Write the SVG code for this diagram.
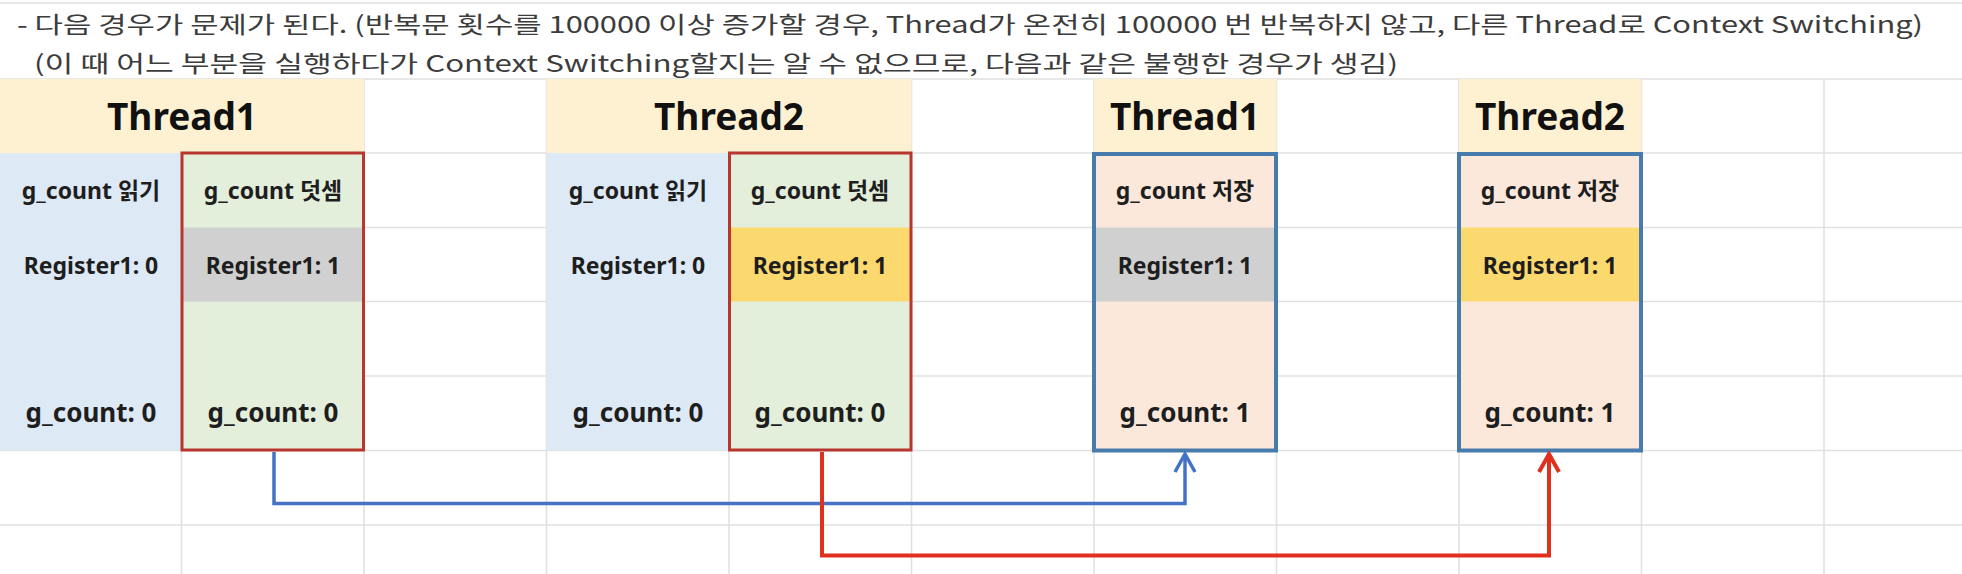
<svg xmlns="http://www.w3.org/2000/svg" width="1962" height="574" viewBox="0 0 1962 574">
<defs>
<style>
.grid{stroke:#e1e1e1;stroke-width:1.6;fill:none}
.hdr{fill:#fdf1d2}
.blue{fill:#dee9f6}
.green{fill:#e3eedb}
.peach{fill:#fce8db}
.gray{fill:#d0d0d0}
.yel{fill:#fcd96e}
.redbox{fill:none;stroke:#b8362d;stroke-width:3}
.bluebox{fill:none;stroke:#467bab;stroke-width:4}
.title{font-family:"Noto Sans CJK KR","Noto Sans",sans-serif;font-size:23px;fill:#3c3c3c}
.h{font-family:"Noto Sans","Noto Sans CJK KR",sans-serif;font-size:37px;font-weight:bold;fill:#111;text-anchor:middle}
.t{font-family:"Noto Sans","Noto Sans CJK KR",sans-serif;font-size:23px;font-weight:bold;fill:#1e1e1e;text-anchor:middle}
.b{font-family:"Noto Sans","Noto Sans CJK KR",sans-serif;font-size:26px;font-weight:bold;fill:#1e1e1e;text-anchor:middle}
.cb{fill:none;stroke:#4472c4;stroke-width:3.5}
.cr{fill:none;stroke:#e0301e;stroke-width:4}
</style>
<marker id="ab" viewBox="0 0 24 24" refX="21" refY="12" markerWidth="24" markerHeight="24" markerUnits="userSpaceOnUse" orient="auto">
<path d="M3,2 L21,12 L3,22" fill="none" stroke="#4472c4" stroke-width="3.5"/>
</marker>
<marker id="ar" viewBox="0 0 24 24" refX="21" refY="12" markerWidth="24" markerHeight="24" markerUnits="userSpaceOnUse" orient="auto">
<path d="M3,2 L21,12 L3,22" fill="none" stroke="#e0301e" stroke-width="4"/>
</marker>
</defs>
<rect width="1962" height="574" fill="#ffffff"/>
<g id="grid">
<path class="grid" d="M0,3 H1962 M0,79 H1962 M0,153 H1962 M0,227.5 H1962 M0,301.5 H1962 M0,376 H1962 M0,450.5 H1962 M0,525 H1962"/>
<path class="grid" d="M181.5,79 V574 M364,79 V574 M546.5,79 V574 M729,79 V574 M911.5,79 V574 M1094,79 V574 M1276.5,79 V574 M1459,79 V574 M1641.5,79 V574 M1824,79 V574"/>
</g>
<g id="title">
<text class="title" x="17" y="32.5" textLength="1906" lengthAdjust="spacingAndGlyphs">- 다음 경우가 문제가 된다. (반복문 횟수를 100000 이상 증가할 경우, Thread가 온전히 100000 번 반복하지 않고, 다른 Thread로 Context Switching)</text>
<text class="title" x="34" y="71.5" textLength="1364" lengthAdjust="spacingAndGlyphs">(이 때 어느 부분을 실행하다가 Context Switching할지는 알 수 없으므로, 다음과 같은 불행한 경우가 생김)</text>
</g>
<g id="t1-left">
<rect class="hdr" x="0" y="79" width="364" height="74"/>
<text class="h" x="182" y="130">Thread1</text>
<rect class="blue" x="0" y="153" width="181.5" height="297.5"/>
<text class="t" x="91" y="199">g_count 읽기</text>
<text class="t" x="91" y="274">Register1: 0</text>
<text class="b" x="91" y="422">g_count: 0</text>
</g>
<g id="t1-add">
<rect class="green" x="181.5" y="153" width="182.5" height="297.5"/>
<rect class="gray" x="181.5" y="227.5" width="182.5" height="74"/>
<text class="t" x="273" y="199">g_count 덧셈</text>
<text class="t" x="273" y="274">Register1: 1</text>
<text class="b" x="273" y="422">g_count: 0</text>
<rect class="redbox" x="182" y="153" width="181.5" height="297"/>
</g>
<g id="t2-left">
<rect class="hdr" x="546.5" y="79" width="365" height="74"/>
<text class="h" x="729" y="130">Thread2</text>
<rect class="blue" x="546.5" y="153" width="182.5" height="297.5"/>
<text class="t" x="638" y="199">g_count 읽기</text>
<text class="t" x="638" y="274">Register1: 0</text>
<text class="b" x="638" y="422">g_count: 0</text>
</g>
<g id="t2-add">
<rect class="green" x="729" y="153" width="182.5" height="297.5"/>
<rect class="yel" x="729" y="227.5" width="182.5" height="74"/>
<text class="t" x="820" y="199">g_count 덧셈</text>
<text class="t" x="820" y="274">Register1: 1</text>
<text class="b" x="820" y="422">g_count: 0</text>
<rect class="redbox" x="729.5" y="153" width="181.5" height="297"/>
</g>
<g id="t1-store">
<rect class="hdr" x="1094" y="79" width="182.5" height="74"/>
<text class="h" x="1185" y="130">Thread1</text>
<rect class="peach" x="1094" y="153" width="182.5" height="297.5"/>
<rect class="gray" x="1094" y="227.5" width="182.5" height="74"/>
<text class="t" x="1185" y="199">g_count 저장</text>
<text class="t" x="1185" y="274">Register1: 1</text>
<text class="b" x="1185" y="422">g_count: 1</text>
<rect class="bluebox" x="1094" y="154" width="182" height="296.5"/>
</g>
<g id="t2-store">
<rect class="hdr" x="1459" y="79" width="182.5" height="74"/>
<text class="h" x="1550" y="130">Thread2</text>
<rect class="peach" x="1459" y="153" width="182.5" height="297.5"/>
<rect class="yel" x="1459" y="227.5" width="182.5" height="74"/>
<text class="t" x="1550" y="199">g_count 저장</text>
<text class="t" x="1550" y="274">Register1: 1</text>
<text class="b" x="1550" y="422">g_count: 1</text>
<rect class="bluebox" x="1459" y="154" width="182" height="296.5"/>
</g>
<g id="connectors">
<path class="cb" d="M274,452 V503.5 H1185 V454" marker-end="url(#ab)"/>
<path class="cr" d="M822,452 V555.5 H1549 V454" marker-end="url(#ar)"/>
</g>
</svg>
